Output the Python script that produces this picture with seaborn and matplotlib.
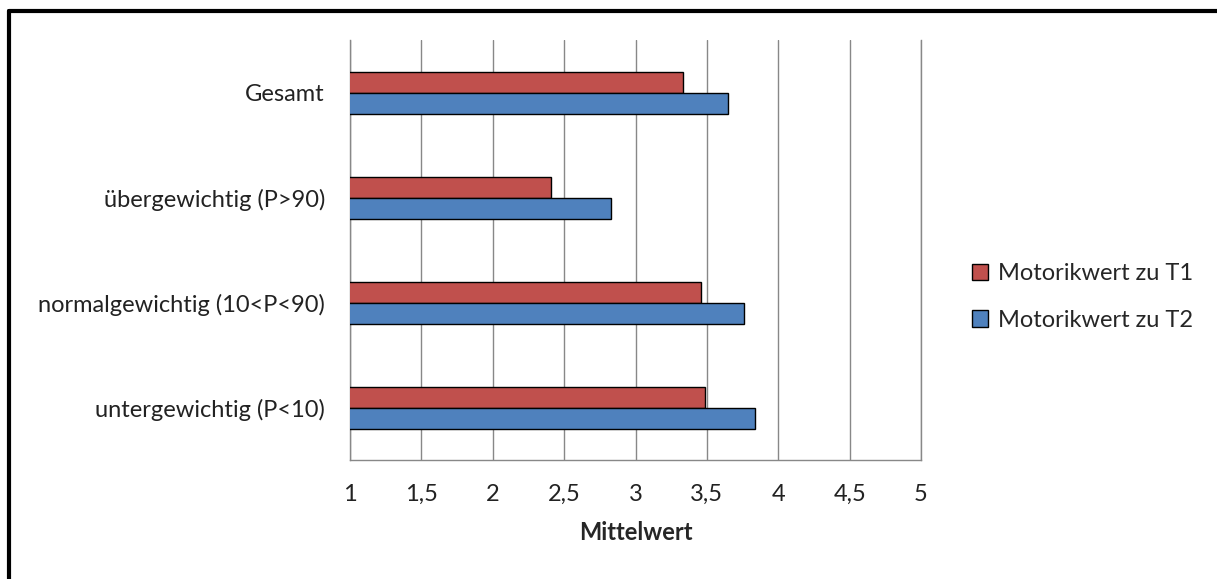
import pandas as pd
import matplotlib.pyplot as plt
import seaborn as sns

# Kategorien und Mittelwerte (von oben nach unten)
categories = ['Gesamt', 'übergewichtig (P>90)', 'normalgewichtig (10<P<90)', 'untergewichtig (P<10)']
series = ['Motorikwert zu T1', 'Motorikwert zu T2']
t1_values = [3.33, 2.41, 3.46, 3.49]
t2_values = [3.65, 2.83, 3.76, 3.84]
x_ticks = [1, 1.5, 2, 2.5, 3, 3.5, 4, 4.5, 5]
x_tick_labels = ['1', '1,5', '2', '2,5', '3', '3,5', '4', '4,5', '5']

df = pd.DataFrame({
    'Kategorie': categories * 2,
    'Serie': [series[0]] * 4 + [series[1]] * 4,
    'Mittelwert': t1_values + t2_values,
})

sns.set_style('white')
plt.rcParams['font.family'] = ['Lato', 'DejaVu Sans']

fig = plt.figure(figsize=(12.17, 5.79), dpi=100)
ax = fig.add_axes([350 / 1217, 119 / 579, 571 / 1217, 420 / 579])

sns.barplot(data=df, x='Mittelwert', y='Kategorie', hue='Serie', orient='h',
            palette=['#C0504D', '#4F81BD'], saturation=1, width=0.4,
            edgecolor='black', linewidth=1, order=categories,
            hue_order=series, ax=ax, zorder=3)

ax.set_xlim(1, 5)
ax.set_ylim(3.5, -0.5)
ax.set_xticks(x_ticks)
ax.set_xticklabels(x_tick_labels, fontsize=17, color='#222222')
ax.tick_params(axis='x', length=8, color='#888888', width=1, pad=9)
ax.tick_params(axis='y', length=0, labelsize=17, labelcolor='#222222', pad=18)
ax.set_ylabel('')
ax.set_xlabel('Mittelwert', fontsize=17, fontweight='bold', labelpad=12)
ax.xaxis.grid(True, color='#888888', linewidth=1, zorder=0)
ax.spines['top'].set_visible(False)
for side in ['left', 'bottom', 'right']:
    ax.spines[side].set_color('#888888')
    ax.spines[side].set_linewidth(1)

leg = ax.legend(loc='center left', bbox_to_anchor=(1.089, 0.388), frameon=False,
                fontsize=17, handlelength=0.7, handleheight=0.7,
                handletextpad=0.4, labelspacing=1.1, borderaxespad=0, borderpad=0)

# Rahmen links und oben wie im Original
fig.add_artist(plt.Line2D([9 / 1217, 9 / 1217], [0, 1 - 11 / 579], color='black', lw=3))
fig.add_artist(plt.Line2D([9 / 1217, 1], [1 - 11 / 579, 1 - 11 / 579], color='black', lw=3))

fig.savefig('out.png', dpi=100)
